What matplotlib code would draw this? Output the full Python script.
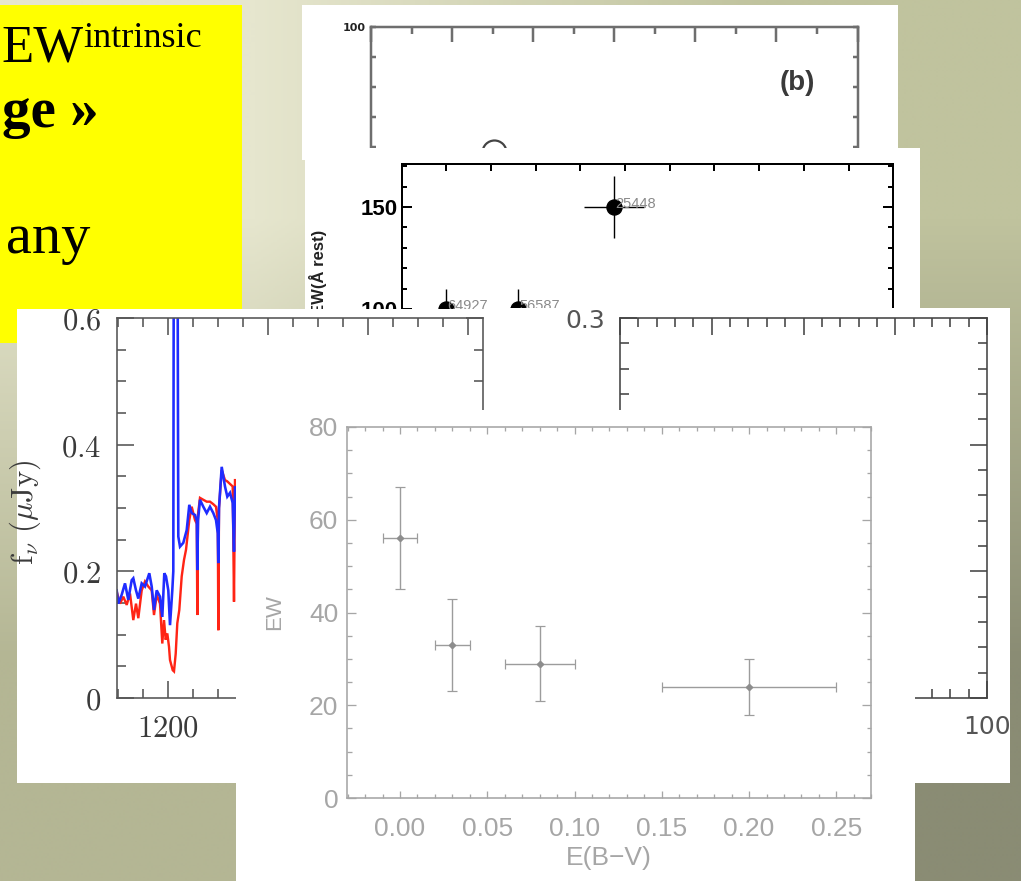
import numpy as np
import matplotlib
matplotlib.use("Agg")
import matplotlib.pyplot as plt
from matplotlib.patches import Rectangle
from matplotlib.ticker import MultipleLocator, FixedLocator, FormatStrFormatter, NullFormatter

W, H = 1021, 881
DPI = 100
PT = 72.0 / DPI  # points per pixel

plt.rcParams['mathtext.fontset'] = 'cm'

# ---------------- data ----------------
# Front panel: Lyman-alpha equivalent width against reddening
ebv = [0.00, 0.03, 0.08, 0.20]
ebv_err = [0.01, 0.01, 0.02, 0.05]
ew = [56, 33, 29, 24]
ew_err = [11, 10, 8, 6]
ebv_ticks = [0.00, 0.05, 0.10, 0.15, 0.20, 0.25]
ew_ticks = [0, 20, 40, 60, 80]

# Spectrum panel: observed (blue) and absorbed model (red) flux densities
wave_blue = [1148.7, 1150.3, 1153.7, 1157.0, 1160.3, 1163.7, 1165.3, 1168.0, 1170.3,
             1173.7, 1177.0, 1181.3, 1183.7, 1186.0, 1188.7, 1192.0, 1194.3, 1196.3,
             1198.0, 1200.3, 1202.0, 1204.3, 1205.3, 1205.8, 1209.5, 1210.0, 1210.3,
             1212.0, 1215.3, 1218.7, 1221.3, 1223.7, 1227.0, 1228.8, 1229.3, 1230.0,
             1232.0, 1235.3, 1238.7, 1242.0, 1245.3, 1248.0, 1249.8, 1250.3, 1251.0,
             1253.7, 1257.0, 1259.3, 1262.0, 1264.7, 1266.0, 1267.0, 1268.5]
flux_blue = [0.170, 0.149, 0.163, 0.181, 0.155, 0.186, 0.189, 0.170, 0.157,
             0.181, 0.176, 0.197, 0.176, 0.139, 0.170, 0.160, 0.128, 0.197,
             0.192, 0.170, 0.115, 0.170, 0.200, 0.750, 0.750, 0.430, 0.255,
             0.239, 0.245, 0.265, 0.305, 0.292, 0.289, 0.280, 0.202, 0.280,
             0.313, 0.302, 0.292, 0.302, 0.292, 0.281, 0.260, 0.213, 0.300,
             0.365, 0.334, 0.318, 0.324, 0.308, 0.231, 0.334, 0.330]

wave_red = [1148.7, 1152.0, 1155.3, 1158.7, 1162.0, 1165.3, 1168.0, 1170.3, 1173.7,
            1177.0, 1180.3, 1183.7, 1186.0, 1188.7, 1192.0, 1194.3, 1196.0, 1197.7,
            1199.3, 1201.0, 1202.0, 1204.7, 1206.0, 1207.7, 1209.3, 1211.3, 1213.7,
            1216.0, 1218.0, 1221.3, 1223.7, 1227.0, 1228.8, 1229.3, 1230.0, 1232.0,
            1235.3, 1238.7, 1242.0, 1245.3, 1248.0, 1249.8, 1250.3, 1251.0, 1253.7,
            1257.0, 1259.3, 1262.0, 1264.7, 1266.0, 1267.0, 1268.5]
flux_red = [0.168, 0.149, 0.160, 0.147, 0.165, 0.123, 0.149, 0.126, 0.170,
            0.184, 0.176, 0.170, 0.131, 0.163, 0.149, 0.086, 0.123, 0.092,
            0.102, 0.081, 0.060, 0.044, 0.042, 0.070, 0.118, 0.139, 0.192,
            0.218, 0.234, 0.281, 0.302, 0.281, 0.275, 0.131, 0.290, 0.316,
            0.313, 0.310, 0.310, 0.306, 0.302, 0.280, 0.107, 0.300, 0.360,
            0.344, 0.342, 0.338, 0.334, 0.152, 0.344, 0.344]

# Middle panel: labelled objects
obj_x = [1.0, 2.6, 4.76]
obj_w = [100, 100, 150]
obj_xerr = [0.0, 0.0, 0.67]
obj_werr = [10, 10, 15]
obj_ids = ['64927', '56587', '25448']

# Top panel marker
b_x = [3.04]
b_y = [58.3]

# ---------------- helpers ----------------
fig = plt.figure(figsize=(W / DPI, H / DPI), dpi=DPI)


def px_axes(x0, y0, x1, y1, z):
    return fig.add_axes([x0 / W, 1 - y1 / H, (x1 - x0) / W, (y1 - y0) / H], zorder=z)


def card(x0, y0, x1, y1, z, color='white'):
    ax = px_axes(x0, y0, x1, y1, z)
    ax.set_facecolor(color)
    ax.set_xticks([])
    ax.set_yticks([])
    for s in ax.spines.values():
        s.set_visible(False)
    ax.set_xlim(x0, x1)
    ax.set_ylim(y1, y0)
    return ax


def frame(ax, color, lw_px, maj_px, min_px, tick_w_px=None):
    for s in ax.spines.values():
        s.set_color(color)
        s.set_linewidth(lw_px * PT)
    tw = (tick_w_px if tick_w_px else lw_px) * PT
    ax.tick_params(which='both', direction='in', top=True, right=True,
                   color=color, width=tw)
    ax.tick_params(which='major', length=maj_px * PT)
    ax.tick_params(which='minor', length=min_px * PT)
    ax.set_facecolor('none')


# ---------------- background ----------------
base = fig.add_axes([0, 0, 1, 1], zorder=0)
base.axis('off')
corners = np.array([[[230, 230, 206], [192, 195, 158]],
                    [[180, 182, 148], [138, 140, 116]]], dtype=float) / 255.0
base.imshow(corners, extent=(0, W, H, 0), interpolation='bilinear', aspect='auto')
base.set_xlim(0, W)
base.set_ylim(H, 0)

# yellow note box with its text
base.add_patch(Rectangle((0, 5), 242, 338, facecolor='#ffff00', edgecolor='none'))
serif = 'Liberation Serif'
base.text(1, 62, 'EW', family=serif, fontsize=38, ha='left', va='baseline', color='black')
base.text(83, 47, 'intrinsic', family=serif, fontsize=26, ha='left', va='baseline',
          color='black')
base.text(2, 127, 'ge \u00bb', family=serif, fontsize=41, fontweight='bold',
          ha='left', va='baseline', color='black')
base.text(90, 253, 'any', family=serif, fontsize=42, ha='right', va='baseline', color='black')

# ---------------- panel (b) at the back ----------------
cd = card(302, 5, 898, 160, 10)
axd = px_axes(371, 27, 857.5, 327, 11)
frame(axd, '#6e6e6e', 2.5, 15, 7)
axd.set_xlim(0, 12)
axd.set_ylim(0, 100)
axd.xaxis.set_major_locator(MultipleLocator(2))
axd.xaxis.set_minor_locator(MultipleLocator(1))
axd.yaxis.set_major_locator(FixedLocator([100]))
axd.yaxis.set_minor_locator(MultipleLocator(10))
axd.tick_params(which='minor', axis='y', length=5 * PT)
axd.xaxis.set_major_formatter(NullFormatter())
axd.set_yticklabels(['100'])
axd.tick_params(axis='y', which='major', length=5 * PT, pad=4, labelsize=8,
                labelcolor='#222222')
for lab in axd.get_yticklabels():
    lab.set_fontweight('bold')
axd.plot(b_x, b_y, 'o', ms=24 * PT, mfc='none', mec='#444444', mew=2.2 * PT, clip_on=False)
cd.text(797, 83, '(b)', family='Liberation Sans', fontsize=20, fontweight='bold',
        color='#3a3a3a', ha='center', va='center')

# ---------------- labelled-object panel ----------------
cc = card(305, 148, 920, 330, 20)
axc = px_axes(401.5, 163.5, 893.2, 400, 21)
frame(axc, 'black', 2.0, 10, 5)
axc.set_xlim(0, 11)
px_per_unit = (309 - 207) / 50.0
axc.set_ylim(100 - (400 - 309) / px_per_unit, 150 + (207 - 163.5) / px_per_unit)
axc.xaxis.set_major_locator(MultipleLocator(1))
axc.xaxis.set_major_formatter(NullFormatter())
axc.tick_params(axis='x', which='major', length=7 * PT)
axc.yaxis.set_major_locator(FixedLocator([100, 150]))
axc.yaxis.set_minor_locator(MultipleLocator(10))
axc.tick_params(axis='y', which='major', pad=3, labelsize=16)
for lab in axc.get_yticklabels():
    lab.set_fontweight('bold')
    lab.set_family('Liberation Sans')
axc.errorbar(obj_x, obj_w, xerr=obj_xerr, yerr=obj_werr, fmt='o', ms=15 * PT,
             color='black', ecolor='black', elinewidth=1.4 * PT, capsize=0)
for xv, yv, name in zip(obj_x, obj_w, obj_ids):
    axc.text(xv + 0.03, yv + 1.5, name, fontsize=10.5, color='#8a8a8a',
             ha='left', va='center', family='Liberation Sans')
cc.text(318, 230, 'EW(\u00c5 rest)', rotation=90, fontsize=12, fontweight='bold',
        color='#222222', ha='center', va='top', family='Liberation Sans')

# ---------------- spectrum panel ----------------
ca = card(17, 309, 485, 783, 30)
axa = px_axes(116.7, 318, 483, 698, 31)
frame(axa, '#555555', 1.6, 17, 9)
axa.set_xlim(1148.7, 1515)
axa.set_ylim(0, 0.6)
axa.xaxis.set_major_locator(FixedLocator([1200, 1300, 1400, 1500]))
axa.xaxis.set_minor_locator(MultipleLocator(25))
axa.set_xticklabels(['$1200$', '$1300$', '$1400$', '$1500$'])
axa.yaxis.set_major_locator(FixedLocator([0, 0.2, 0.4, 0.6]))
axa.yaxis.set_minor_locator(MultipleLocator(0.05))
axa.set_yticklabels(['$0$', '$0.2$', '$0.4$', '$0.6$'])
axa.tick_params(axis='both', which='major', labelsize=22, labelcolor='#3a3a3a')
axa.tick_params(axis='x', which='major', pad=11)
axa.tick_params(axis='y', which='major', pad=11)
axa.plot(wave_red, flux_red, color='#ff2415', lw=2.4 * PT, solid_joinstyle='miter')
axa.plot(wave_blue, flux_blue, color='#1f2cff', lw=2.6 * PT, solid_joinstyle='miter')
axa.set_ylabel(r'$\mathrm{f}_\nu\ (\mu\mathrm{Jy})$', fontsize=22, color='#3a3a3a')
axa.yaxis.set_label_coords(-0.200, 0.487)

# ---------------- right panel ----------------
cb = card(485, 308, 1010, 783, 30)
axb = px_axes(620, 318, 987, 698, 31)
frame(axb, '#444444', 1.6, 17, 9)
axb.set_xlim(60, 100)
axb.set_ylim(0, 0.3)
axb.xaxis.set_major_locator(FixedLocator([60, 70, 80, 90, 100]))
axb.xaxis.set_minor_locator(MultipleLocator(2))
axb.set_xticklabels(['60', '70', '80', '90', '100'])
axb.yaxis.set_major_locator(FixedLocator([0, 0.1, 0.2, 0.3]))
axb.yaxis.set_minor_locator(MultipleLocator(0.02))
axb.set_yticklabels(['0', '0.1', '0.2', '0.3'])
axb.tick_params(axis='both', which='major', labelsize=18, labelcolor='#555555')
axb.tick_params(axis='x', which='major', pad=12)
axb.tick_params(axis='y', which='major', pad=11)
for t in axb.xaxis.get_major_ticks() + axb.yaxis.get_major_ticks():
    t.label1.set_clip_box(cb.bbox)
    t.label1.set_clip_on(True)
    t.label1.set_family('DejaVu Sans')

# ---------------- front panel: EW vs E(B-V) ----------------
ce = card(236, 410, 915, 881, 40)
axe = px_axes(346.6, 427, 871.3, 798, 41)
gray = '#a6a6a6'
frame(axe, gray, 1.6, 9, 4.5, tick_w_px=1.3)
axe.set_xlim(-0.0306, 0.27)
axe.set_ylim(0, 80)
axe.xaxis.set_major_locator(FixedLocator(ebv_ticks))
axe.xaxis.set_minor_locator(MultipleLocator(0.01))
axe.xaxis.set_major_formatter(FormatStrFormatter('%.2f'))
axe.yaxis.set_major_locator(FixedLocator(ew_ticks))
axe.yaxis.set_minor_locator(MultipleLocator(5))
axe.yaxis.set_major_formatter(FormatStrFormatter('%d'))
axe.tick_params(axis='x', which='major', length=7 * PT)
axe.tick_params(axis='x', which='minor', length=4 * PT)
axe.tick_params(axis='both', which='major', labelsize=19, labelcolor='#a6a6a6')
axe.tick_params(axis='x', which='major', pad=14)
axe.tick_params(axis='y', which='major', pad=6)
for lab in axe.get_xticklabels() + axe.get_yticklabels():
    lab.set_family('Liberation Sans')
axe.errorbar(ebv, ew, xerr=ebv_err, yerr=ew_err, fmt='D', ms=3.2, mfc='#8d8d8d',
             mec='#8d8d8d', ecolor='#9c9c9c', elinewidth=1.4 * PT, capsize=3.5,
             capthick=1.2 * PT)
axe.set_ylabel('EW', fontsize=16, color='#a6a6a6', family='Liberation Sans')
axe.yaxis.set_label_coords(-0.1365, 0.5)
axe.yaxis.label.set_va('center')
axe.set_xlabel('E(B\u2212V)', fontsize=19, color='#a6a6a6', family='Liberation Sans')
axe.xaxis.set_label_coords(0.5, -0.162)
axe.xaxis.label.set_va('center')

fig.savefig('out.png', dpi=DPI)
